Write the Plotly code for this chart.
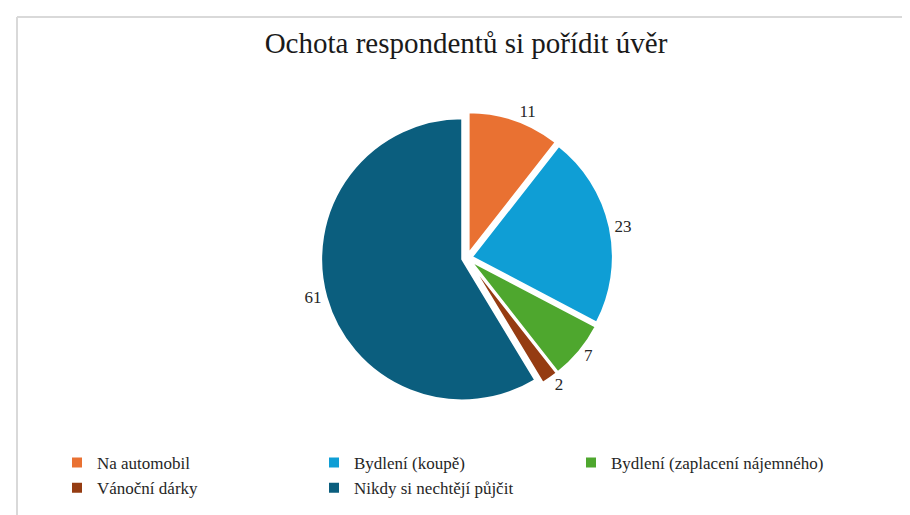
import plotly.graph_objects as go

categories = ["Na automobil", "Bydlení (koupě)", "Bydlení (zaplacení nájemného)", "Vánoční dárky", "Nikdy si nechtějí půjčit"]
values = [11, 23, 7, 2, 61]
colors = ["#E97132", "#0F9ED5", "#4EA72E", "#953C12", "#0B5E7E"]
title = "Ochota respondentů si pořídit úvěr"

W, H = 910, 515
cx, cy, r = 459, 250, 146
SERIF = "Liberation Serif"

fig = go.Figure(go.Pie(
    labels=categories,
    values=values,
    sort=False,
    direction="clockwise",
    rotation=0,
    pull=0.035,
    marker=dict(colors=colors, line=dict(color="white", width=2)),
    textinfo="value",
    textposition="outside",
    textfont=dict(family=SERIF, size=17, color="#262626"),
    domain=dict(x=[(cx - r) / W, (cx + r) / W], y=[(H - cy - r) / H, (H - cy + r) / H]),
    hoverinfo="label+value",
))

fig.update_layout(
    width=W, height=H,
    margin=dict(l=0, r=0, t=0, b=0),
    paper_bgcolor="white",
    font=dict(family=SERIF),
    title=dict(text=title, x=458 / W, xanchor="center", y=1 - 35 / H, yanchor="middle",
               font=dict(family=SERIF, size=29, color="#1a1a1a")),
    showlegend=True,
    legend=dict(orientation="h", x=49 / W, xanchor="left", y=1 - 437 / H, yanchor="top",
                entrywidth=212, entrywidthmode="pixels", traceorder="normal",
                font=dict(family=SERIF, size=17, color="#262626"),
                itemwidth=30),
    shapes=[
        dict(type="line", xref="paper", yref="paper", x0=9 / W, x1=1, y0=1 - 9 / H, y1=1 - 9 / H,
             line=dict(color="#d9d9d9", width=2)),
        dict(type="line", xref="paper", yref="paper", x0=9 / W, x1=9 / W, y0=0, y1=1 - 9 / H,
             line=dict(color="#d9d9d9", width=2)),
    ],
)

fig.write_html("out.html")
